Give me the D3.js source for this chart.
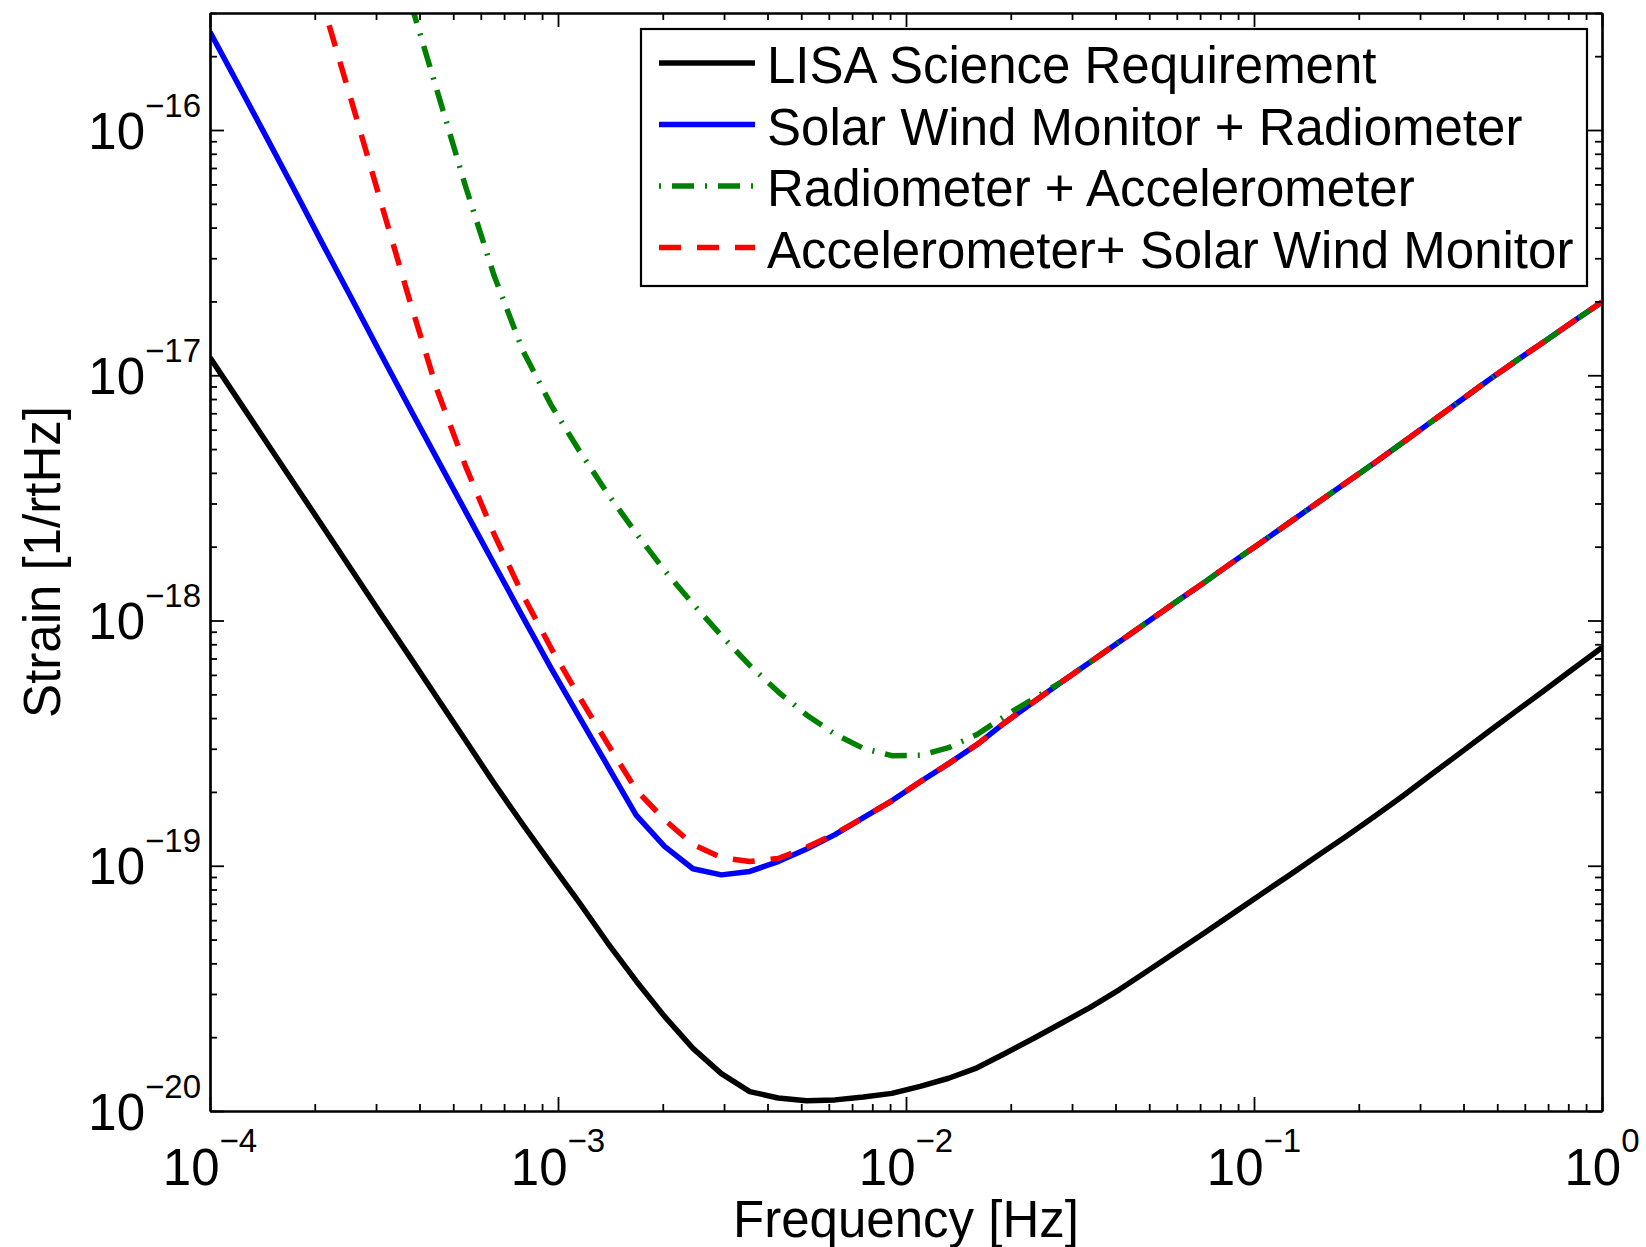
<!DOCTYPE html>
<html>
<head>
<meta charset="utf-8">
<script src="https://cdnjs.cloudflare.com/ajax/libs/d3/7.8.5/d3.min.js"></script>
<style>
  body { margin: 0; background: #fff; }
  text { font-family: "Liberation Sans", Arial, Helvetica, sans-serif; fill: #000; }
</style>
</head>
<body>
<div id="chart"></div>
<script>
// frequency grid (Hz), 50 log spaced samples
var freq = [1.0000e-4, 1.2068e-4, 1.4563e-4, 1.7575e-4, 2.1210e-4, 2.5595e-4, 3.0888e-4, 3.7276e-4, 4.4984e-4, 5.4287e-4,
  6.5513e-4, 7.9060e-4, 9.5410e-4, 1.1514e-3, 1.3895e-3, 1.6768e-3, 2.0236e-3, 2.4421e-3, 2.9471e-3, 3.5565e-3,
  4.2919e-3, 5.1795e-3, 6.2506e-3, 7.5431e-3, 9.1030e-3, 1.0985e-2, 1.3257e-2, 1.5999e-2, 1.9307e-2, 2.3300e-2,
  2.8118e-2, 3.3932e-2, 4.0949e-2, 4.9417e-2, 5.9636e-2, 7.1969e-2, 8.6851e-2, 1.0481e-1, 1.2649e-1, 1.5264e-1,
  1.8421e-1, 2.2230e-1, 2.6827e-1, 3.2375e-1, 3.9069e-1, 4.7149e-1, 5.6899e-1, 6.8665e-1, 8.2864e-1, 1.0000]

var lisaReq = [1.18e-17, 7.92e-18, 5.31e-18, 3.56e-18, 2.39e-18, 1.60e-18, 1.07e-18, 7.21e-19, 4.83e-19, 3.24e-19,
  2.17e-19, 1.48e-19, 1.02e-19, 7.08e-20, 4.84e-20, 3.39e-20, 2.43e-20, 1.80e-20, 1.42e-20, 1.20e-20,
  1.13e-20, 1.10e-20, 1.11e-20, 1.14e-20, 1.18e-20, 1.26e-20, 1.36e-20, 1.50e-20, 1.72e-20, 1.98e-20,
  2.29e-20, 2.65e-20, 3.12e-20, 3.72e-20, 4.45e-20, 5.32e-20, 6.38e-20, 7.66e-20, 9.16e-20, 1.10e-19,
  1.32e-19, 1.59e-19, 1.93e-19, 2.36e-19, 2.88e-19, 3.52e-19, 4.29e-19, 5.22e-19, 6.37e-19, 7.76e-19]

var swmRad = [2.51e-16, 1.53e-16, 9.29e-17, 5.61e-17, 3.37e-17, 2.04e-17, 1.23e-17, 7.46e-18, 4.55e-18, 2.78e-18,
  1.70e-18, 1.04e-18, 6.41e-19, 4.04e-19, 2.55e-19, 1.61e-19, 1.20e-19, 9.72e-20, 9.18e-20, 9.48e-20,
  1.04e-19, 1.17e-19, 1.34e-19, 1.57e-19, 1.84e-19, 2.20e-19, 2.61e-19, 3.12e-19, 3.85e-19, 4.66e-19,
  5.64e-19, 6.79e-19, 8.18e-19, 9.86e-19, 1.19e-18, 1.43e-18, 1.73e-18, 2.08e-18, 2.51e-18, 3.03e-18,
  3.65e-18, 4.40e-18, 5.33e-18, 6.47e-18, 7.85e-18, 9.55e-18, 1.15e-17, 1.38e-17, 1.66e-17, 1.99e-17]

var radAcc = [2.57e-13, 1.00e-13, 3.89e-14, 1.51e-14, 5.89e-15, 2.29e-15, 8.91e-16, 3.50e-16, 1.44e-16, 5.87e-17,
  2.55e-17, 1.27e-17, 7.59e-18, 4.92e-18, 3.29e-18, 2.27e-18, 1.60e-18, 1.17e-18, 8.69e-19, 6.56e-19,
  5.12e-19, 4.12e-19, 3.44e-19, 3.01e-19, 2.81e-19, 2.82e-19, 3.03e-19, 3.43e-19, 4.09e-19, 4.81e-19,
  5.64e-19, 6.79e-19, 8.18e-19, 9.86e-19, 1.19e-18, 1.43e-18, 1.73e-18, 2.08e-18, 2.51e-18, 3.03e-18,
  3.65e-18, 4.40e-18, 5.33e-18, 6.47e-18, 7.85e-18, 9.55e-18, 1.15e-17, 1.38e-17, 1.66e-17, 1.99e-17]

var accSwm = [1.15e-14, 4.68e-15, 1.91e-15, 7.76e-16, 3.18e-16, 1.29e-16, 5.15e-17, 2.07e-17, 8.67e-18, 4.25e-18,
  2.25e-18, 1.28e-18, 7.74e-19, 4.88e-19, 3.14e-19, 2.04e-19, 1.54e-19, 1.22e-19, 1.08e-19, 1.04e-19,
  1.07e-19, 1.19e-19, 1.35e-19, 1.57e-19, 1.84e-19, 2.20e-19, 2.61e-19, 3.12e-19, 3.85e-19, 4.66e-19,
  5.64e-19, 6.79e-19, 8.18e-19, 9.86e-19, 1.19e-18, 1.43e-18, 1.73e-18, 2.08e-18, 2.51e-18, 3.03e-18,
  3.65e-18, 4.40e-18, 5.33e-18, 6.47e-18, 7.85e-18, 9.55e-18, 1.15e-17, 1.38e-17, 1.66e-17, 1.99e-17]

var xTicks = [1e-4, 1e-3, 1e-2, 1e-1, 1]
var xTickExp = ["\u22124", "\u22123", "\u22122", "\u22121", "0"]
var yTicks = [1e-20, 1e-19, 1e-18, 1e-17, 1e-16]
var yTickExp = ["\u221220", "\u221219", "\u221218", "\u221217", "\u221216"]

var names = ["LISA Science Requirement", "Solar Wind Monitor + Radiometer",
  "Radiometer + Accelerometer", "Accelerometer+ Solar Wind Monitor"]

var series = [
  {vals: lisaReq, color: "#000000", dash: null},
  {vals: swmRad, color: "#0000ff", dash: null},
  {vals: radAcc, color: "#008000", dash: "22,11,2,11", legendOffset: 33},
  {vals: accSwm, color: "#ff0000", dash: "22,16", legendOffset: 0}
]

var svg = d3.select("#chart").append("svg")
  .attr("width", 1646)
  .attr("height", 1247)

// plot box (window.top is reserved, so own names)
var pL = 210, pR = 1602, pT = 13, pB = 1111

var x = d3.scaleLog().domain([1e-4, 1]).range([pL, pR])
var y = d3.scaleLog().domain([1e-20, 3e-16]).range([pB, pT])

svg.append("clipPath").attr("id", "plotClip")
  .append("rect")
  .attr("x", pL).attr("y", pT)
  .attr("width", pR - pL).attr("height", pB - pT)

var line = d3.line()
  .x((d, i) => x(freq[i]))
  .y((d) => y(d))

svg.append("g").attr("clip-path", "url(#plotClip)")
  .selectAll("path")
  .data(series)
  .enter()
    .append("path")
    .attr("d", (s) => line(s.vals))
    .attr("fill", "none")
    .attr("stroke", (s) => s.color)
    .attr("stroke-width", 5.5)
    .attr("stroke-dasharray", (s) => s.dash)
    .attr("stroke-linejoin", "round")

// minor ticks are every 1..9 multiple that is not a decade
var isMajor = (d) => Math.abs(Math.log10(d) - Math.round(Math.log10(d))) < 1e-6
var xMinor = x.ticks().filter((d) => !isMajor(d))
var yMinor = y.ticks().filter((d) => !isMajor(d))

function addAxis(axis, tr, vals, size){
  var g = svg.append("g")
    .attr("transform", tr)
    .call(axis.tickValues(vals).tickSize(size).tickSizeOuter(0).tickFormat(""))
  g.select(".domain").attr("stroke-width", 2.2)
  g.selectAll(".tick line").attr("stroke-width", 1.8)
  return g
}

addAxis(d3.axisBottom(x), "translate(0," + pB + ")", xTicks, -14)
addAxis(d3.axisBottom(x), "translate(0," + pB + ")", xMinor, -7)
addAxis(d3.axisTop(x), "translate(0," + pT + ")", xTicks, -14)
addAxis(d3.axisTop(x), "translate(0," + pT + ")", xMinor, -7)
addAxis(d3.axisLeft(y), "translate(" + pL + ",0)", yTicks, -14)
addAxis(d3.axisLeft(y), "translate(" + pL + ",0)", yMinor, -7)
addAxis(d3.axisRight(y), "translate(" + pR + ",0)", yTicks, -14)
addAxis(d3.axisRight(y), "translate(" + pR + ",0)", yMinor, -7)

// tick labels 10^n
var xl = svg.append("g").selectAll("text")
  .data(xTicks)
  .enter()
    .append("text")
    .attr("x", (d) => x(d))
    .attr("y", pB + 74)
    .attr("text-anchor", "middle")
    .style("font-size", "51px")
xl.append("tspan").text("10")
xl.append("tspan").attr("dy", -33).style("font-size", "33px").text((d, i) => xTickExp[i])

var yl = svg.append("g").selectAll("text")
  .data(yTicks)
  .enter()
    .append("text")
    .attr("x", 201)
    .attr("y", (d) => y(d) + 18.5)
    .attr("text-anchor", "end")
    .style("font-size", "51px")
yl.append("tspan").text("10")
yl.append("tspan").attr("dy", -32).style("font-size", "33px").text((d, i) => yTickExp[i])

svg.append("text")
  .attr("x", (pL + pR) / 2)
  .attr("y", 1237)
  .attr("text-anchor", "middle")
  .style("font-size", "51px")
  .text("Frequency [Hz]")

svg.append("text")
  .attr("transform", "translate(60," + (pT + pB) / 2 + ") rotate(-90)")
  .attr("text-anchor", "middle")
  .style("font-size", "51px")
  .text("Strain [1/rtHz]")

// legend box, top right
var legend = svg.append("g").attr("transform", "translate(641,29)")

legend.append("rect")
  .attr("width", 946)
  .attr("height", 257)
  .attr("fill", "#fff")
  .attr("stroke", "#000")
  .attr("stroke-width", 2.2)

var entry = legend.selectAll(".legend")
  .data(series)
  .enter()
    .append("g")
    .attr("class", "legend")
    .attr("transform", (d, i) => "translate(0," + (i * 61.5) + ")")

entry.append("line")
  .attr("x1", 18).attr("x2", 114)
  .attr("y1", 34).attr("y2", 34)
  .attr("stroke", (s) => s.color)
  .attr("stroke-width", 5.5)
  .attr("stroke-dasharray", (s) => s.dash)
  .attr("stroke-dashoffset", (s) => s.legendOffset || 0)

entry.append("text")
  .attr("x", 126)
  .attr("y", 54)
  .style("font-size", "51px")
  .text((d, i) => names[i])
</script>
</body>
</html>
